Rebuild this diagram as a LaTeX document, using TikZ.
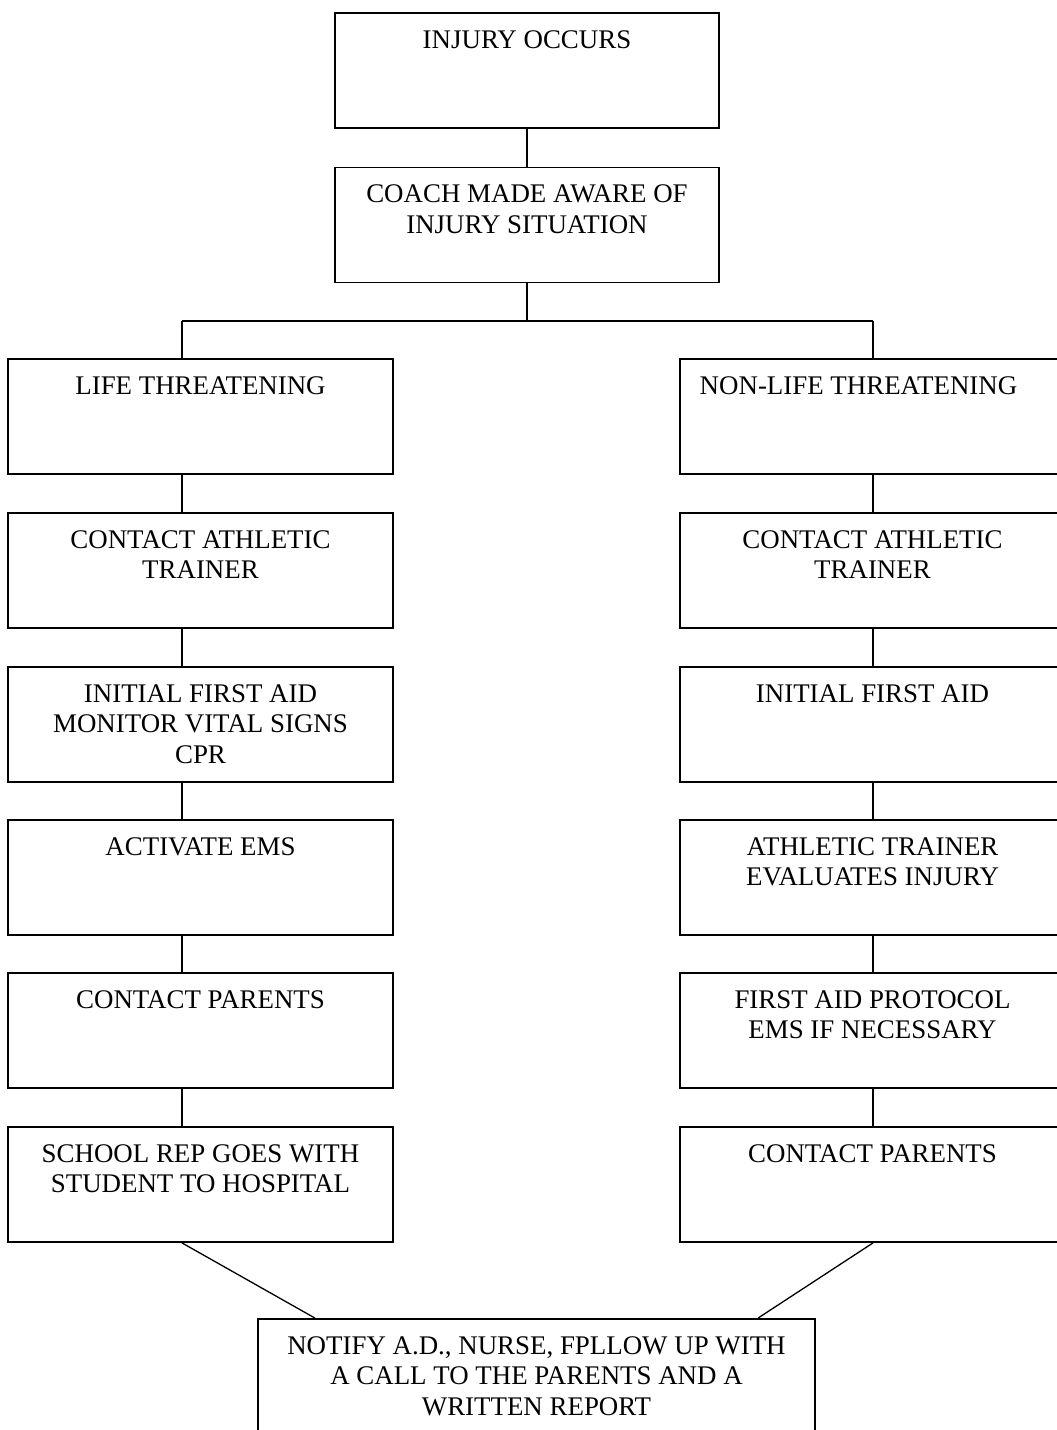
\documentclass[tikz,border=0pt]{standalone}
\usepackage{fontspec}
\setmainfont{Liberation Serif}
\begin{document}
\begin{tikzpicture}[x=1pt,y=-1pt,
  box/.style={draw, line width=1.8pt, inner sep=0pt, minimum height=115pt},
  sidebox/.style={box, minimum width=385pt},
  midbox/.style={box, minimum width=384pt},
  txt/.style={anchor=north, inner sep=0pt, align=center,
    font=\fontsize{26.9}{30.5}\selectfont},
  conn/.style={line width=1.3pt}]
\path[use as bounding box, clip] (0,0) rectangle (1057,1430);
\fill[white] (0,0) rectangle (1057,1430);

% top column
\node[midbox] (inj) at (527,70.5) {};
\node[midbox] (coach) at (527,225) {};
\node[txt] (tinj) at ([yshift=-18pt]inj.north) {INJURY OCCURS};
\node[txt] (tcoach) at ([yshift=-18pt]coach.north) {COACH MADE AWARE OF\\INJURY SITUATION};

% left column
\node[sidebox] (L1) at (200.5,416.5) {};
\node[sidebox] (L2) at (200.5,570.5) {};
\node[sidebox] (L3) at (200.5,724.5) {};
\node[sidebox] (L4) at (200.5,877.5) {};
\node[sidebox] (L5) at (200.5,1030.5) {};
\node[sidebox] (L6) at (200.5,1184.5) {};
\node[txt] at ([yshift=-18pt]L1.north) {LIFE THREATENING};
\node[txt] at ([yshift=-18pt]L2.north) {CONTACT ATHLETIC\\TRAINER};
\node[txt] at ([yshift=-18pt]L3.north) {INITIAL FIRST AID\\MONITOR VITAL SIGNS\\CPR};
\node[txt] at ([yshift=-18pt]L4.north) {ACTIVATE EMS};
\node[txt] at ([yshift=-18pt]L5.north) {CONTACT PARENTS};
\node[txt] at ([yshift=-18pt]L6.north) {SCHOOL REP GOES WITH\\STUDENT TO HOSPITAL};

% right column
\node[sidebox] (R1) at (872.5,416.5) {};
\node[sidebox] (R2) at (872.5,570.5) {};
\node[sidebox] (R3) at (872.5,724.5) {};
\node[sidebox] (R4) at (872.5,877.5) {};
\node[sidebox] (R5) at (872.5,1030.5) {};
\node[sidebox] (R6) at (872.5,1184.5) {};
\node[txt] at ([yshift=-18pt,xshift=-14pt]R1.north) {NON-LIFE THREATENING};
\node[txt] at ([yshift=-18pt]R2.north) {CONTACT ATHLETIC\\TRAINER};
\node[txt] at ([yshift=-18pt]R3.north) {INITIAL FIRST AID};
\node[txt] at ([yshift=-18pt]R4.north) {ATHLETIC TRAINER\\EVALUATES INJURY};
\node[txt] at ([yshift=-18pt]R5.north) {FIRST AID PROTOCOL\\EMS IF NECESSARY};
\node[txt] at ([yshift=-18pt]R6.north) {CONTACT PARENTS};

% bottom box
\node[box, minimum width=557pt, minimum height=170pt] (fin) at (536.5,1404) {};
\node[txt] at ([yshift=-18pt]fin.north) {NOTIFY A.D., NURSE, FPLLOW UP WITH\\A CALL TO THE PARENTS AND A\\WRITTEN REPORT};

% junction coordinates
\coordinate (jl) at (182,321);
\coordinate (jr) at (873,321);
\coordinate (fl) at (315,0);
\coordinate (fr) at (758,0);

% connectors
\draw[conn] (inj.south) -- (coach.north);
\draw[conn] (coach.south) -- (coach.south |- jl);
\draw[conn] (jl) -- (jr);
\draw[conn] (jl) -- (L1.north -| jl);
\draw[conn] (jr) -- (R1.north -| jr);
\foreach \a/\b in {L1/L2,L2/L3,L3/L4,L4/L5,L5/L6}{
  \draw[conn] (\a.south -| jl) -- (\b.north -| jl);
}
\foreach \a/\b in {R1/R2,R2/R3,R3/R4,R4/R5,R5/R6}{
  \draw[conn] (\a.south -| jr) -- (\b.north -| jr);
}
\draw[conn] (L6.south -| jl) -- (fin.north -| fl);
\draw[conn] (R6.south -| jr) -- (fin.north -| fr);
\end{tikzpicture}
\end{document}
